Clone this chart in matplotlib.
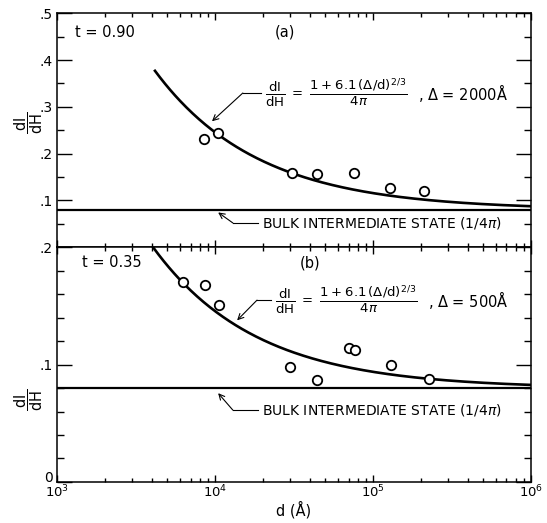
import numpy as np
import matplotlib
matplotlib.use("Agg")
import matplotlib.pyplot as plt
from matplotlib.ticker import FixedLocator, LogLocator, NullFormatter

plt.rcParams["font.family"] = ["DejaVu Sans"]
plt.rcParams["mathtext.fontset"] = "dejavusans"

# measured points, panel (a) t = 0.90
d_a = [8500, 10400, 30500, 44000, 76000, 128000, 210000]
y_a = [0.232, 0.244, 0.158, 0.156, 0.158, 0.126, 0.120]

# measured points, panel (b) t = 0.35
d_b = [6300, 8700, 10600, 30000, 44000, 70500, 77500, 130000, 227000]
y_b = [0.170, 0.168, 0.151, 0.098, 0.087, 0.114, 0.112, 0.100, 0.088]

# theory: dI/dH = (1 + 6.1 (Delta/d)^(2/3)) / 4pi
delta_a = 2000.0
delta_b = 500.0
coef = 6.1
bulk = 1.0 / (4 * np.pi)

d_start_a = 4170.0
d_start_b = 3800.0


def theory(d, delta):
    return (1 + coef * (delta / d) ** (2.0 / 3.0)) / (4 * np.pi)


fig = plt.figure(figsize=(5.47, 5.23), dpi=100)
ax_a = fig.add_axes([0.1042, 0.5277, 0.8665, 0.4468])
ax_b = fig.add_axes([0.1042, 0.0784, 0.8665, 0.4493], sharex=ax_a)

lw_curve = 1.9
mk = dict(marker="o", ms=6.8, mfc="white", mec="black", mew=1.3, ls="none", zorder=4)

for ax, d_pts, y_pts, delta, d0 in [
    (ax_a, d_a, y_a, delta_a, d_start_a),
    (ax_b, d_b, y_b, delta_b, d_start_b),
]:
    dd = np.logspace(np.log10(d0), 6, 300)
    ax.plot(dd, theory(dd, delta), color="black", lw=lw_curve, zorder=3)
    ax.axhline(bulk, color="black", lw=1.6, zorder=3)
    ax.plot(d_pts, y_pts, **mk)
    ax.set_xscale("log")
    ax.set_xlim(1e3, 1e6)
    for s in ax.spines.values():
        s.set_linewidth(1.1)
    ax.tick_params(which="both", direction="in", top=True, right=True,
                   labelsize=10, width=1.0, pad=3)
    ax.tick_params(axis="y", which="major", length=10.5)
    ax.tick_params(axis="y", which="minor", length=5)
    ax.tick_params(axis="x", which="major", length=5)
    ax.tick_params(axis="x", which="minor", length=3)
    ax.xaxis.set_major_locator(LogLocator(base=10))
    ax.xaxis.set_minor_locator(LogLocator(base=10, subs=np.arange(2, 10)))
    ax.xaxis.set_minor_formatter(NullFormatter())

# panel (a) y axis
ax_a.set_ylim(0, 0.5)
ax_a.yaxis.set_major_locator(FixedLocator([0.1, 0.2, 0.3, 0.4, 0.5]))
ax_a.yaxis.set_minor_locator(FixedLocator([0.05, 0.15, 0.25, 0.35, 0.45]))
ax_a.set_yticklabels([".1", ".2", ".3", ".4", ".5"])
ax_a.tick_params(axis="x", labelbottom=False)

# panel (b) y axis
ax_b.set_ylim(0, 0.2)
ax_b.yaxis.set_major_locator(FixedLocator([0.0, 0.1, 0.2]))
ax_b.yaxis.set_minor_locator(FixedLocator([0.02, 0.04, 0.06, 0.08, 0.12, 0.14, 0.16, 0.18]))
ax_b.set_yticklabels(["0", ".1", ".2"])
ax_b.set_xticks([1e3, 1e4, 1e5, 1e6])
ax_b.set_xticklabels([r"$10^3$", r"$10^4$", r"$10^5$", r"$10^6$"])
ax_b.tick_params(axis="x", which="major", pad=1.5, labelsize=9.5)
for lab in ax_b.get_yticklabels()[:1]:
    lab.set_va("baseline")

fig.text(0.537, 0.026, "d (Å)", fontsize=10.5, ha="center", va="center")

# y labels as stacked fractions
ylab = r"$\dfrac{\mathrm{dI}}{\mathrm{dH}}$"
fig.text(0.052, 0.765, ylab, rotation=90, fontsize=10.5, ha="center", va="center")
fig.text(0.052, 0.235, ylab, rotation=90, fontsize=10.5, ha="center", va="center")

# panel titles
ax_a.text(0.038, 0.92, "t = 0.90", transform=ax_a.transAxes, fontsize=10.5, va="center")
ax_a.text(0.481, 0.92, "(a)", transform=ax_a.transAxes, fontsize=10.5, va="center", ha="center")
ax_b.text(0.053, 0.932, "t = 0.35", transform=ax_b.transAxes, fontsize=10.5, va="center")
ax_b.text(0.534, 0.932, "(b)", transform=ax_b.transAxes, fontsize=10.5, va="center", ha="center")

formula = r"$\dfrac{\mathrm{dI}}{\mathrm{dH}}\ =\ \dfrac{1+6.1\,(\Delta/\mathrm{d})^{2/3}}{4\pi}$"
bulk_text = "BULK INTERMEDIATE STATE (1/4$\\pi$)"
arrow = dict(arrowstyle="->", color="black", lw=0.8, shrinkA=0, shrinkB=0)


def leader(ax, text_xy, elbow_xy, tip_xy):
    # horizontal stub from the text, then a slanted arrow to the target
    ax.plot([elbow_xy[0], text_xy[0] - 0.008], [elbow_xy[1], elbow_xy[1]],
            color="black", lw=0.8, transform=ax.transAxes, clip_on=False)
    ax.annotate("", xy=tip_xy, xytext=elbow_xy, xycoords="axes fraction",
                textcoords="axes fraction", arrowprops=arrow)


# panel (a) annotations
ax_a.text(0.439, 0.659, formula, transform=ax_a.transAxes, fontsize=9.5, va="center")
ax_a.text(0.762, 0.659, r", $\Delta$ = %dÅ" % delta_a, transform=ax_a.transAxes,
          fontsize=10.5, va="center")
leader(ax_a, (0.439, 0.659), (0.392, 0.659), (0.327, 0.538))
ax_a.text(0.432, 0.103, bulk_text, transform=ax_a.transAxes, fontsize=10, va="center")
leader(ax_a, (0.432, 0.103), (0.371, 0.103), (0.340, 0.148))

# panel (b) annotations
ax_b.text(0.460, 0.774, formula, transform=ax_b.transAxes, fontsize=9.5, va="center")
ax_b.text(0.783, 0.774, r", $\Delta$ = %dÅ" % delta_b, transform=ax_b.transAxes,
          fontsize=10.5, va="center")
leader(ax_b, (0.460, 0.774), (0.422, 0.774), (0.380, 0.688))
ax_b.text(0.432, 0.306, bulk_text, transform=ax_b.transAxes, fontsize=10, va="center")
leader(ax_b, (0.432, 0.306), (0.371, 0.306), (0.340, 0.378))

fig.savefig("out.png", dpi=100)
